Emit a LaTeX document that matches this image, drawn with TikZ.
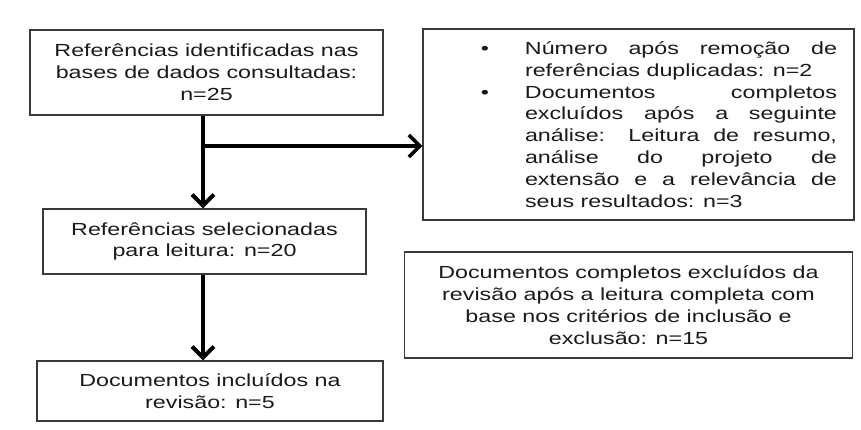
\documentclass[tikz,border=0pt]{standalone}
\usepackage{fontspec}
\setmainfont[FakeStretch=1.33]{Liberation Sans}
\usetikzlibrary{arrows.meta}
\definecolor{boxgray}{HTML}{3A3A3A}
\definecolor{textgray}{HTML}{1A1A1A}
\begin{document}
\begin{tikzpicture}[x=1pt,y=-1pt,
  box/.style={draw=boxgray, line width=1.3pt, inner sep=0pt, text=textgray,
    font=\fontsize{17.5}{21.8}\selectfont},
  cbox/.style={box, align=center},
  flow/.style={draw=black, line width=4pt, -{Straight Barb[length=11pt,width=22pt]}}]
\useasboundingbox[fill=white] (0,0) rectangle (861,430);

\node[cbox, minimum width=353pt, minimum height=85pt] (ident) at (206.5,72.5)
  {Referências identificadas nas\\bases de dados consultadas:\\n=25};

\node[box, minimum width=431pt, minimum height=191pt] (excl1) at (638.5,124.5)
  {\hspace*{85pt}\begin{minipage}{312pt}\setlength{\parindent}{0pt}%
   \leavevmode\llap{•\hspace{36pt}}Número após remoção de\linebreak referências duplicadas: n=2\par
   \leavevmode\llap{•\hspace{36pt}}Documentos completos\linebreak excluídos após a seguinte\linebreak análise: Leitura de resumo,\linebreak análise do projeto de\linebreak extensão e a relevância de\linebreak seus resultados: n=3\par
   \end{minipage}};

\node[cbox, minimum width=323pt, minimum height=65pt] (sel) at (204.5,241.5)
  {Referências selecionadas\\para leitura: n=20};

\node[cbox, minimum width=346pt, minimum height=60pt] (incl) at (210,391)
  {Documentos incluídos na\\revisão: n=5};

\node[cbox, minimum width=448pt, minimum height=106pt] (excl2) at (628.5,305)
  {Documentos completos excluídos da\\revisão após a leitura completa com\\base nos critérios de inclusão e\\exclusão: n=15};

\coordinate (spine) at (203,0);
\coordinate (branch) at (203,146);

\draw[flow] (ident.south -| spine) -- (sel.north -| spine);
\draw[flow, line width=3.5pt] (branch) -- (excl1.west |- branch);
\draw[flow] (sel.south -| spine) -- (incl.north -| spine);
\end{tikzpicture}
\end{document}
